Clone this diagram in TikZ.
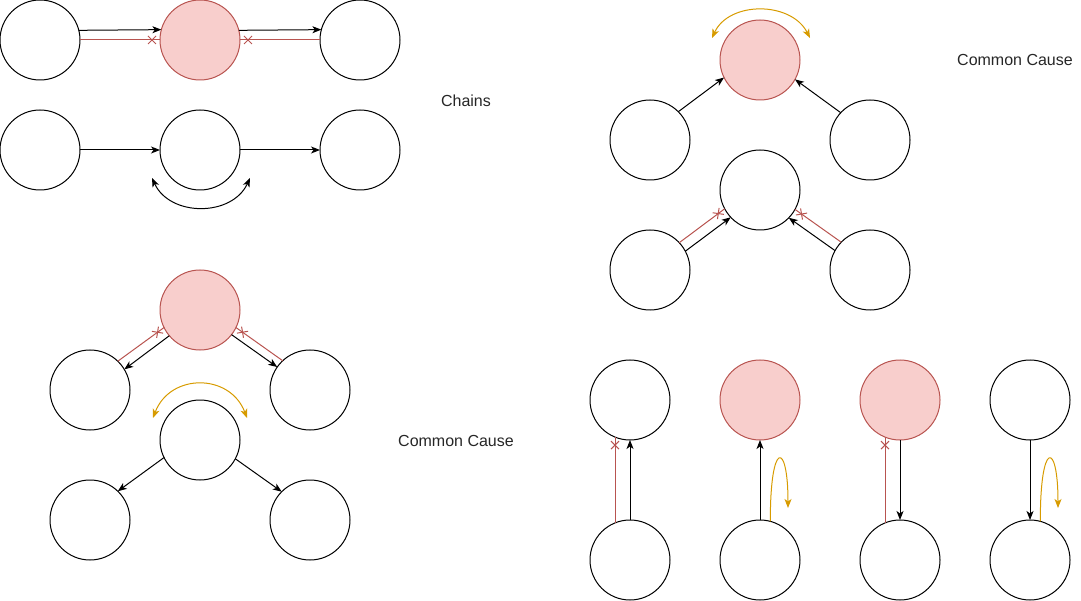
\documentclass[tikz,border=0pt]{standalone}
\usepackage{fontspec}
\setmainfont{Liberation Sans}
\usetikzlibrary{arrows.meta,decorations.markings}
\definecolor{redfill}{HTML}{F8CECC}
\definecolor{redline}{HTML}{B85450}
\definecolor{yel}{HTML}{D79B00}
\begin{document}
\begin{tikzpicture}[x=1pt,y=-1pt,
  nd/.style={circle,draw=black,line width=1pt,minimum size=80pt,inner sep=0pt,outer sep=0pt,fill=white},
  obs/.style={nd,draw=redline,fill=redfill},
  tip/.style={Stealth[length=9pt,width=7pt,inset=2.5pt]},
  arr/.style={-{Stealth[length=9pt,width=7pt,inset=2.5pt]},line width=1pt,draw=black},
  darr/.style={{Stealth[length=9pt,width=7pt,inset=2.5pt]}-{Stealth[length=9pt,width=7pt,inset=2.5pt]},line width=1pt},
  yarr/.style={-{Stealth[length=9pt,width=7pt,inset=2.5pt]},line width=1pt,draw=yel,fill=none},
  ydarr/.style={{Stealth[length=9pt,width=7pt,inset=2.5pt]}-{Stealth[length=9pt,width=7pt,inset=2.5pt]},line width=1pt,draw=yel},
  redx/.style={draw=redline,line width=1pt,postaction={decorate,decoration={markings,
     mark=at position -8pt with {\draw[redline,line width=1pt] (-4pt,-4pt)--(4pt,4pt) (-4pt,4pt)--(4pt,-4pt);}}}},
  lbl/.style={font=\fontsize{16}{19}\selectfont,text=black!85}
]
\useasboundingbox (0,0) rectangle (1081,601);

% Chains row 1
\node[nd]  (a) at (40,40) {};
\node[obs] (b) at (200,40) {};
\node[nd]  (c) at (360,40) {};
\draw[arr] (a.14.5) -- (b.165.5);
\draw[redx] (a.east) -- (b.west);
\draw[arr] (b.14.5) -- (c.165.5);
\draw[redx] (c.west) -- (b.east);

% Chains row 2
\node[nd] (d) at (40,150) {};
\node[nd] (e) at (200,150) {};
\node[nd] (f) at (360,150) {};
\draw[arr] (d) -- (e);
\draw[arr] (e) -- (f);
\coordinate (e1) at (152,178);
\coordinate (e2) at (250,178);
\draw[darr] (e1) .. controls (170,217) and (232,217) .. (e2);

\node[lbl] (chains) at (466,101) {Chains};

% bottom-left structure
\node[obs] (g) at (200,310) {};
\node[nd]  (h) at (90,390) {};
\node[nd]  (i) at (310,390) {};
\draw[arr] (g.220.3) -- (h.31.7);
\draw[redx] (h.46.1) -- (g.206);
\draw[arr] (g.322.5) -- (i.145.4);
\draw[redx] (i.133.9) -- (g.334);

\node[nd] (cc) at (200,440) {};
\node[nd] (cl) at (90,520) {};
\node[nd] (cr) at (310,520) {};
\draw[arr] (cc.206) -- (cl.46.1);
\draw[arr] (cc.332.6) -- (cr.135.4);
\coordinate (y1) at (153,418);
\coordinate (y2) at (247,418);
\draw[ydarr] (y1) .. controls (170,373) and (230,373) .. (y2);

\node[lbl] (cc1) at (456,441) {Common Cause};

% top-right structure
\node[obs] (m) at (760,60) {};
\node[nd]  (n) at (650,140) {};
\node[nd]  (o) at (870,140) {};
\draw[arr] (n.45.4) -- (m.206.7);
\draw[arr] (o.137) -- (m.331);
\coordinate (y3) at (712,38);
\coordinate (y4) at (810,38);
\draw[ydarr] (y3) .. controls (729,1) and (791,1) .. (y4);

\node[lbl] (cc2) at (1015,60) {Common Cause};

\node[nd] (j) at (760,190) {};
\node[nd] (k) at (650,270) {};
\node[nd] (l) at (870,270) {};
\draw[arr] (k.28.85) -- (j.223.2);
\draw[redx] (k.43.2) -- (j.208.85);
\draw[arr] (l.151.15) -- (j.316.8);
\draw[redx] (l.136.8) -- (j.331.15);

% bottom-right columns
\node[nd]  (p) at (630,400) {};
\node[nd]  (q) at (630,560) {};
\node[obs] (r) at (760,400) {};
\node[nd]  (s) at (760,560) {};
\node[obs] (t) at (900,400) {};
\node[nd]  (u) at (900,560) {};
\node[nd]  (v) at (1030,400) {};
\node[nd]  (w) at (1030,560) {};

\draw[arr] (q) -- (p);
\draw[redx] (q.112) -- (p.248);

\draw[arr] (s) -- (r);
\coordinate (s1) at (788,508);
\draw[yarr] (s.75.5) .. controls (770,440) and (788,440) .. (s1);

\draw[arr] (t) -- (u);
\draw[redx] (u.112) -- (t.248);

\draw[arr] (v) -- (w);
\coordinate (w1) at (1058,508);
\draw[yarr] (w.75.5) .. controls (1040,440) and (1058,440) .. (w1);
\end{tikzpicture}
\end{document}
